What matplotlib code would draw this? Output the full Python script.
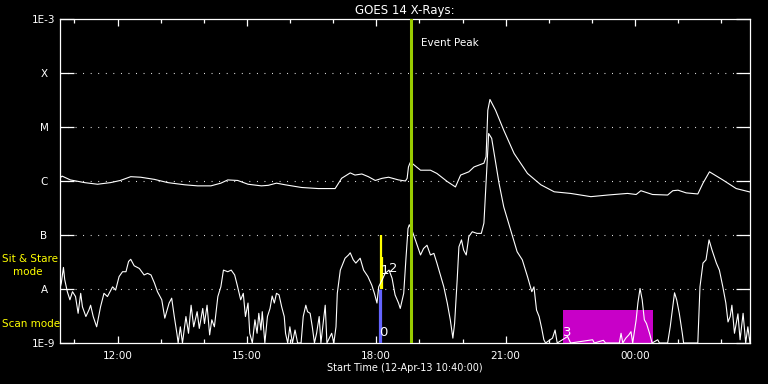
import datetime as dt
import numpy as np
import matplotlib
matplotlib.use("Agg")
import matplotlib.pyplot as plt
import matplotlib.dates as mdates

# GOES 14 X-ray flux, hours after 12-Apr-13 10:40 and log10(W/m^2)
long_hr = [0.00, 0.05, 0.24, 0.57, 0.87, 1.17, 1.40, 1.64, 1.87, 2.19, 2.50, 2.89,
           3.19, 3.50, 3.73, 3.89, 4.12, 4.36, 4.67, 4.83, 5.02, 5.22, 5.60, 5.99,
           6.38, 6.42, 6.53, 6.73, 6.84, 7.00, 7.15, 7.31, 7.47, 7.62, 7.85, 8.01,
           8.05, 8.08, 8.12, 8.16, 8.36, 8.59, 8.74, 8.98, 9.17, 9.29, 9.48, 9.60,
           9.83, 9.88, 9.92, 9.97, 10.10, 10.29, 10.53, 10.84, 11.15, 11.46, 11.84,
           12.31, 12.70, 13.16, 13.36, 13.47, 13.74, 14.09, 14.21, 14.33, 14.52,
           14.79, 14.91, 15.06, 15.37, 15.68, 16.03]
long_log = [-5.94, -5.91, -5.98, -6.03, -6.06, -6.03, -5.99, -5.92, -5.93, -5.97, -6.03, -6.07,
            -6.09, -6.09, -6.04, -5.98, -5.99, -6.06, -6.09, -6.08, -6.04, -6.07, -6.12, -6.14,
            -6.14, -6.09, -5.95, -5.85, -5.89, -5.87, -5.92, -5.99, -5.95, -5.93, -5.98, -6.00,
            -5.95, -5.74, -5.66, -5.67, -5.80, -5.80, -5.86, -6.01, -6.11, -5.89, -5.83, -5.74,
            -5.67, -5.55, -4.69, -4.49, -4.69, -5.06, -5.49, -5.86, -6.07, -6.20, -6.23,
            -6.29, -6.26, -6.23, -6.25, -6.18, -6.25, -6.26, -6.18, -6.17, -6.22,
            -6.24, -6.04, -5.83, -5.98, -6.14, -6.21]

short_hr = [0.00, 0.03, 0.08, 0.11, 0.17, 0.23, 0.29, 0.36, 0.42, 0.48, 0.52, 0.60, 0.67,
            0.71, 0.77, 0.85, 0.94, 1.02, 1.10, 1.22, 1.29, 1.37, 1.45, 1.53, 1.59, 1.64,
            1.72, 1.84, 1.95, 2.03, 2.11, 2.19, 2.26, 2.36, 2.43, 2.53, 2.59, 2.65, 2.71,
            2.74, 2.79, 2.84, 2.92, 2.98, 3.04, 3.10, 3.18, 3.23, 3.31, 3.35, 3.41, 3.47,
            3.52, 3.58, 3.66, 3.73, 3.79, 3.89, 3.97, 4.05, 4.11, 4.19, 4.25, 4.30, 4.36,
            4.40, 4.46, 4.52, 4.57, 4.61, 4.66, 4.69, 4.75, 4.81, 4.87, 4.92, 4.97, 5.02,
            5.08, 5.14, 5.20, 5.23, 5.28, 5.33, 5.39, 5.45, 5.51, 5.59, 5.64, 5.70, 5.74,
            5.80, 5.85, 5.90, 5.95, 6.01, 6.05, 6.11, 6.15, 6.19, 6.30, 6.35, 6.40, 6.43,
            6.50, 6.61, 6.69, 6.73, 6.80, 6.86, 6.96, 7.04, 7.14, 7.23, 7.29, 7.35, 7.39,
            7.47, 7.54, 7.63, 7.70, 7.77, 7.85, 7.89, 7.97, 8.02, 8.07, 8.10, 8.16, 8.24,
            8.36, 8.43, 8.51, 8.59, 8.67, 8.74, 8.82, 8.90, 8.98, 9.05, 9.11, 9.15, 9.21,
            9.25, 9.31, 9.36, 9.42, 9.48, 9.56, 9.67, 9.77, 9.83, 9.87, 9.91, 9.94, 10.01,
            10.08, 10.18, 10.29, 10.45, 10.60, 10.72, 10.84, 10.94, 10.99, 11.05, 11.11,
            11.17, 11.22, 11.26, 11.42, 11.48, 11.53, 11.77, 11.84, 12.35, 12.39, 12.60,
            12.65, 12.97, 13.01, 13.05, 13.12, 13.19, 13.24, 13.28, 13.36, 13.40, 13.45,
            13.50, 13.55, 13.60, 13.67, 13.73, 13.86, 13.90, 14.09, 14.15, 14.21, 14.25,
            14.30, 14.36, 14.43, 14.46, 14.79, 14.84, 14.91, 14.98, 15.05, 15.12, 15.22,
            15.29, 15.37, 15.44, 15.49, 15.54, 15.58, 15.64, 15.72, 15.77, 15.84, 15.90,
            15.95, 16.00, 16.03]
short_log = [-7.99, -7.89, -7.60, -7.83, -8.05, -8.20, -8.05, -8.14, -8.45, -8.08, -8.33, -8.51, -8.39,
             -8.30, -8.51, -8.70, -8.33, -8.08, -8.14, -7.96, -8.02, -7.77, -7.68, -7.68, -7.49, -7.45,
             -7.57, -7.62, -7.74, -7.71, -7.74, -7.89, -8.05, -8.20, -8.54, -8.26, -8.17, -8.51, -8.82,
             -9.30, -8.70, -9.30, -8.51, -8.82, -8.30, -8.70, -8.42, -8.73, -8.36, -8.64, -8.30, -8.85,
             -8.57, -8.70, -8.14, -7.96, -7.65, -7.68, -7.65, -7.74, -7.93, -8.20, -8.08, -8.51, -8.26,
             -8.82, -9.30, -8.57, -8.82, -8.45, -8.76, -8.42, -9.30, -8.51, -8.36, -8.13, -8.26, -8.08,
             -8.11, -8.33, -8.51, -8.82, -9.30, -8.70, -9.30, -8.76, -9.30, -9.30, -8.51, -8.30, -8.42,
             -8.45, -8.70, -9.30, -8.82, -8.51, -9.30, -8.57, -8.30, -9.30, -8.82, -9.30, -8.70, -8.08,
             -7.65, -7.43, -7.37, -7.33, -7.46, -7.52, -7.43, -7.65, -7.77, -7.93, -8.08, -8.26, -7.96,
             -7.83, -7.71, -7.65, -7.80, -8.11, -8.26, -8.36, -8.08, -7.46, -6.88, -6.81, -6.91, -7.09,
             -7.37, -7.25, -7.19, -7.37, -7.34, -7.52, -7.74, -7.96, -8.26, -8.57, -8.91, -8.64, -7.83,
             -7.22, -7.09, -7.28, -7.37, -7.03, -6.94, -6.97, -6.97, -6.78, -6.17, -5.55, -5.12, -5.21,
             -5.55, -6.04, -6.48, -6.91, -7.31, -7.46, -7.77, -8.05, -7.96, -8.39, -8.51,
             -8.73, -8.94, -9.30, -8.91, -8.76, -9.30, -8.88, -9.30, -8.94, -9.30, -8.95,
             -9.30, -9.30, -8.82, -9.30, -8.91, -8.85, -8.79, -9.30, -8.57, -8.26, -7.99,
             -8.20, -8.57, -8.64, -8.82, -9.30, -8.94, -9.30, -9.30, -8.70, -8.33, -8.07,
             -8.20, -8.45, -8.82, -9.30, -9.30, -7.96, -7.52, -7.46, -7.09, -7.28, -7.52,
             -7.65, -7.96, -8.26, -8.61, -8.51, -8.30, -8.82, -8.46, -8.94, -8.45, -9.30,
             -8.70, -9.30, -8.73]

# observation timeline (hours after start)
event_peak_hr = 8.14
scan0_hr = 7.415          # scan mode, label "0"
stare_hr = [7.45, 7.475]  # sit & stare, labels "1", "2"
stare_top_log = [-7.0, -7.41]
scan3_hr = [11.66, 13.74]  # scan mode, label "3"
scan3_top_log = -8.39

class_levels = [1e-3, 1e-4, 1e-5, 1e-6, 1e-7, 1e-8, 1e-9]
class_labels = ["1E-3", "X", "M", "C", "B", "A", "1E-9"]

start = dt.datetime(2013, 4, 12, 10, 40)


def to_time(hours):
    return [start + dt.timedelta(hours=h) for h in np.atleast_1d(hours)]


plt.rcParams["font.family"] = "DejaVu Sans"
fig = plt.figure(figsize=(7.68, 3.84), dpi=100, facecolor="black")
ax = fig.add_axes([60 / 768, 41 / 384, 690 / 768, 324 / 384])
ax.set_facecolor("black")

ax.set_yscale("log")
ax.set_ylim(1e-9, 1e-3)
ax.set_xlim(start, start + dt.timedelta(hours=16))

# dotted class lines
for lev in class_levels[1:-1]:
    ax.axhline(lev, color="white", lw=0.8, ls=(0, (0.8, 6)), zorder=1)

# magenta scan box
t3 = to_time(scan3_hr)
ax.fill_between(t3, 1e-9, 10 ** scan3_top_log, color="#c800c8", lw=0, zorder=2)

# curves (flux below the plot floor is drawn along the floor)
ax.plot(to_time(long_hr), 10 ** np.array(long_log), color="white", lw=0.8, zorder=4)
ax.plot(to_time(short_hr), np.maximum(10 ** np.array(short_log), 1e-9), color="white",
        lw=0.8, zorder=4)

# mode bars
ax.vlines(to_time(scan0_hr), 1e-9, 1e-8, color="#6464ff", lw=2.3, zorder=3)
ax.vlines(to_time(stare_hr), 1e-8, 10 ** np.array(stare_top_log), color="#ffff00",
          lw=1.6, zorder=3)
ax.axvline(to_time(event_peak_hr)[0], color="#99cc00", lw=2.2, zorder=5)

txt = dict(color="white", fontsize=9.5, zorder=6, va="center", ha="center")
ax.text(to_time(scan0_hr + 0.08)[0], 10 ** -8.81, "0", **txt)
ax.text(to_time(7.53)[0], 10 ** -7.65, "1", **txt)
ax.text(to_time(7.72)[0], 10 ** -7.62, "2", **txt)
ax.text(to_time(scan3_hr[0] + 0.1)[0], 10 ** -8.81, "3", **txt)

ax.annotate("Event Peak", xy=(to_time(event_peak_hr)[0], 1e-3), xytext=(7.5, -17.5),
            textcoords="offset points", color="white", fontsize=7.5, va="center", ha="left")

# axes styling
for s in ax.spines.values():
    s.set_color("white")
    s.set_linewidth(0.9)
ax.set_yticks(class_levels)
ax.set_yticklabels(class_labels)
ax.yaxis.set_minor_locator(matplotlib.ticker.NullLocator())
ax.tick_params(axis="y", which="major", direction="in", length=10, width=0.9,
               left=True, right=True, colors="white", labelsize=7.5, pad=11.5)
for lab in ax.get_yticklabels():
    lab.set_horizontalalignment("center")

ax.xaxis.set_major_locator(mdates.HourLocator(byhour=range(0, 24, 3)))
ax.xaxis.set_minor_locator(mdates.HourLocator())
ax.xaxis.set_major_formatter(mdates.DateFormatter("%H:%M"))
ax.tick_params(axis="x", which="major", direction="in", length=5, width=0.9,
               top=True, bottom=True, colors="white", labelsize=7.5, pad=6)
ax.tick_params(axis="x", which="minor", direction="in", length=3, width=0.9,
               top=True, bottom=True, colors="white")

ax.set_title("GOES 14 X-Rays:", color="white", fontsize=8.5, pad=3.5)
ax.set_xlabel("Start Time (12-Apr-13 10:40:00)", color="white", fontsize=7, labelpad=1.5)

fig.text(2 / 768, 1 - 259 / 384, "Sit & Stare", color="#ffff00", fontsize=7.5, va="center")
fig.text(13 / 768, 1 - 272 / 384, "mode", color="#ffff00", fontsize=7.5, va="center")
fig.text(2 / 768, 1 - 324 / 384, "Scan mode", color="#ffff00", fontsize=7.5, va="center")

fig.savefig("out.png", dpi=100, facecolor="black")
